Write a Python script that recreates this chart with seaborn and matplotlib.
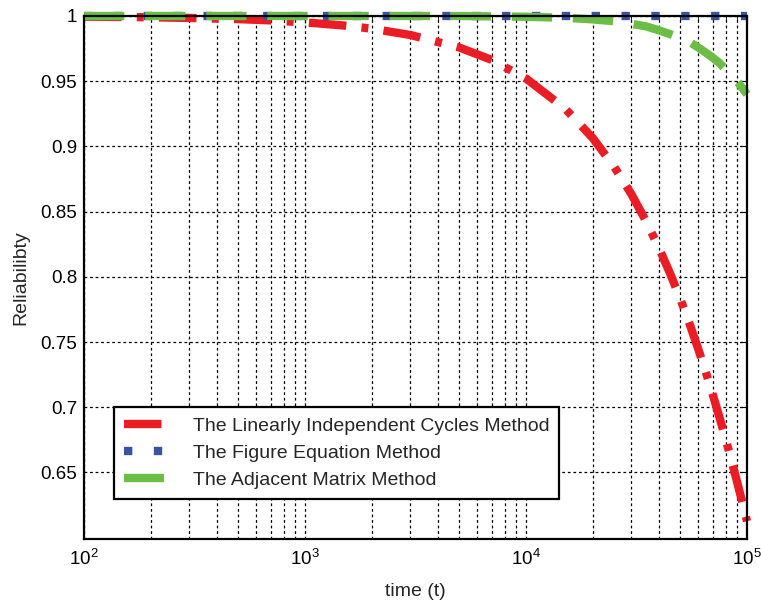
import matplotlib
matplotlib.use("Agg")
import matplotlib.pyplot as plt
import matplotlib.ticker as ticker
import pandas as pd
import seaborn as sns

# values
time_points = [100, 200, 300, 500, 700, 1000, 1500, 2000, 3000, 5000, 7000,
               10000, 15000, 20000, 25000, 30000, 35000, 40000, 45000, 50000,
               55000, 60000, 65000, 70000, 75000, 80000, 85000, 90000, 95000,
               100000]
rel_cycles = [0.9995, 0.999, 0.9985, 0.9976, 0.9966, 0.9951, 0.9927, 0.9903,
              0.9854, 0.9758, 0.9663, 0.9521, 0.9291, 0.9066, 0.8847, 0.8633,
              0.8424, 0.8220, 0.8021, 0.7827, 0.7638, 0.7453, 0.7273, 0.7097,
              0.6925, 0.6757, 0.6594, 0.6434, 0.6278, 0.6126]
rel_figure = [1.0] * len(time_points)
rel_adjacent = [1.0, 1.0, 1.0, 1.0, 1.0, 1.0, 1.0, 1.0, 1.0, 1.0, 0.9997,
                0.9994, 0.9986, 0.9974, 0.996, 0.994, 0.992, 0.989, 0.986,
                0.983, 0.980, 0.976, 0.972, 0.968, 0.964, 0.959, 0.955, 0.950,
                0.945, 0.940]
series_names = ['The Linearly Independent Cycles Method',
                'The Figure Equation Method',
                'The Adjacent Matrix Method']
y_ticks = [0.65, 0.7, 0.75, 0.8, 0.85, 0.9, 0.95, 1.0]

df = pd.DataFrame({'t': time_points, 'cycles': rel_cycles,
                   'figure': rel_figure, 'adjacent': rel_adjacent})

sns.set_style("white")
plt.rcParams['font.family'] = ['Liberation Sans', 'DejaVu Sans']
plt.rcParams['mathtext.fontset'] = 'custom'
plt.rcParams['mathtext.rm'] = 'Liberation Sans'
plt.rcParams['mathtext.it'] = 'Liberation Sans'
plt.rcParams['mathtext.default'] = 'regular'
plt.rcParams['lines.scale_dashes'] = False

fig = plt.figure(figsize=(7.61, 6.01), dpi=100)
ax = fig.add_axes([0.1104, 0.1032, 0.8712, 0.8702])

lw = 6.0
sns.lineplot(data=df, x='t', y='cycles', ax=ax, color='#ec1c24', lw=lw,
             label=series_names[0], clip_on=False)
sns.lineplot(data=df, x='t', y='figure', ax=ax, color='#3953a4', lw=lw,
             label=series_names[1], clip_on=False)
sns.lineplot(data=df, x='t', y='adjacent', ax=ax, color='#6abd45', lw=lw,
             label=series_names[2], clip_on=False)

lines = ax.get_lines()
lines[0].set_dashes([27, 11, 5, 11])
lines[1].set_dashes([6, 15.5])
lines[2].set_dashes([29, 15])
for ln in lines:
    ln.set_dash_capstyle('butt')
    ln.set_solid_capstyle('butt')
    ln.set_dash_joinstyle('miter')

ax.set_xscale('log')
ax.set_xlim(100, 100000)
ax.set_ylim(0.599, 1.0)
ax.set_yticks(y_ticks)
ax.yaxis.set_major_formatter(ticker.FuncFormatter(lambda v, p: f'{v:g}'))
ax.xaxis.set_major_locator(ticker.LogLocator(base=10))
ax.xaxis.set_minor_locator(ticker.LogLocator(base=10, subs=range(2, 10)))
ax.xaxis.set_minor_formatter(ticker.NullFormatter())

ax.grid(True, which='major', axis='both', color='black', linestyle=(0, (2, 2)), lw=0.9)
ax.grid(True, which='minor', axis='x', color='black', linestyle=(0, (2, 2)), lw=0.9)
ax.tick_params(which='both', direction='in', top=True, right=True,
               labelsize=13.5, colors='black')
ax.tick_params(which='major', length=5)
ax.tick_params(which='minor', length=3)
ax.tick_params(axis='x', which='major', pad=7)
ax.tick_params(axis='y', which='major', pad=5)
for sp in ax.spines.values():
    sp.set_color('black')
    sp.set_linewidth(1.6)

ax.set_xlabel('time (t)', fontsize=14, labelpad=10)
ax.set_ylabel('Reliabilibty', fontsize=14, labelpad=8)

leg = ax.legend(loc='lower left', bbox_to_anchor=(0.045, 0.0765), fontsize=14,
                handlelength=2.1, handletextpad=1.45, borderpad=0.5,
                labelspacing=0.5, borderaxespad=0, fancybox=False, frameon=True)
leg.get_frame().set_edgecolor('black')
leg.get_frame().set_linewidth(1.6)
leg.get_frame().set_alpha(1)

fig.savefig('out.png', dpi=100)
